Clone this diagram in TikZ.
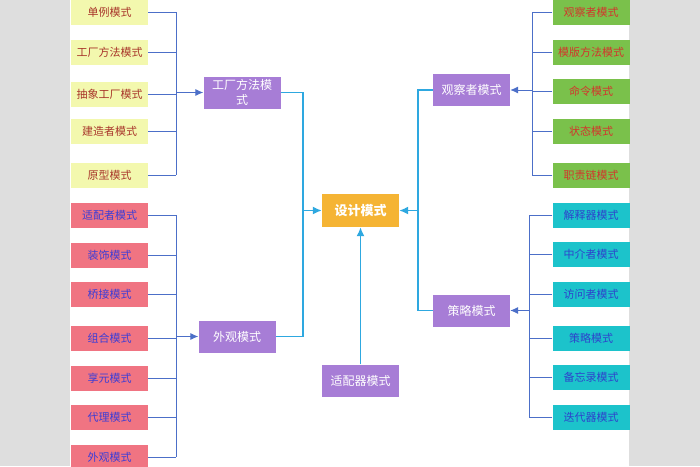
\documentclass[tikz,border=0pt]{standalone}
\usepackage{fontspec}
\setmainfont{Noto Sans CJK SC}
\usetikzlibrary{arrows.meta}
\definecolor{greybg}{HTML}{DEDEDE}
\definecolor{yel}{HTML}{F3F8AE}
\definecolor{yeltxt}{HTML}{A8352A}
\definecolor{pnk}{HTML}{F07482}
\definecolor{pnktxt}{HTML}{3B3DD6}
\definecolor{grn}{HTML}{7AC14B}
\definecolor{grntxt}{HTML}{D2352C}
\definecolor{tea}{HTML}{1CC3CB}
\definecolor{teatxt}{HTML}{2E42CC}
\definecolor{pur}{HTML}{A77DD6}
\definecolor{org}{HTML}{F5B434}
\definecolor{busblue}{HTML}{4C6FC8}
\definecolor{cblue}{HTML}{2EA8E0}
\tikzset{
  box/.style={minimum width=77pt, minimum height=25pt, inner sep=1pt, font=\fontsize{11}{13}\selectfont},
  ybox/.style={box, fill=yel, text=yeltxt},
  pbox/.style={box, fill=pnk, text=pnktxt},
  gbox/.style={box, fill=grn, text=grntxt},
  tbox/.style={box, fill=tea, text=teatxt},
  hub/.style={minimum width=77pt, minimum height=32pt, inner sep=1pt, fill=pur, text=white, align=center, font=\fontsize{12}{15}\selectfont},
  mainbox/.style={minimum width=77pt, minimum height=33pt, fill=org, text=white, font=\fontsize{13}{15}\selectfont\bfseries},
  bus/.style={draw=busblue, line width=0.9pt},
  busarrow/.style={draw=busblue, line width=0.9pt, -{Latex[length=8pt,width=7pt]}},
  cline/.style={draw=cblue, line width=1.6pt},
  carrow/.style={draw=cblue, line width=1.6pt, -{Latex[length=9pt,width=8pt]}}
}
\begin{document}
\begin{tikzpicture}[x=1pt,y=-1pt]
\useasboundingbox (0,0) rectangle (700,466);
\clip (0,0) rectangle (700,466);
\fill[greybg] (0,0) rectangle (700,466);
\fill[white] (70,0) rectangle (629,466);
% left yellow leaves
\node[ybox] (y1) at (109.5,12) {单例模式};
\node[ybox] (y2) at (109.5,52) {工厂方法模式};
\node[ybox] (y3) at (109.5,94) {抽象工厂模式};
\node[ybox] (y4) at (109.5,131) {建造者模式};
\node[ybox] (y5) at (109.5,175) {原型模式};
% left pink leaves
\node[pbox] (p1) at (109.5,215) {适配者模式};
\node[pbox] (p2) at (109.5,255) {装饰模式};
\node[pbox] (p3) at (109.5,294) {桥接模式};
\node[pbox] (p4) at (109.5,338) {组合模式};
\node[pbox] (p5) at (109.5,378) {享元模式};
\node[pbox] (p6) at (109.5,417) {代理模式};
\node[pbox] (p7) at (109.5,457) {外观模式};
% right green leaves
\node[gbox] (g1) at (591,12) {观察者模式};
\node[gbox] (g2) at (591,52) {模版方法模式};
\node[gbox] (g3) at (591,91) {命令模式};
\node[gbox] (g4) at (591,131) {状态模式};
\node[gbox] (g5) at (591,175) {职责链模式};
% right teal leaves
\node[tbox] (t1) at (591,215) {解释器模式};
\node[tbox] (t2) at (591,254) {中介者模式};
\node[tbox] (t3) at (591,294) {访问者模式};
\node[tbox] (t4) at (591,338) {策略模式};
\node[tbox] (t5) at (591,377) {备忘录模式};
\node[tbox] (t6) at (591,417) {迭代器模式};
% hubs
\node[hub] (h1) at (242,92.5) {工厂方法模\\式};
\node[hub] (h2) at (237,336.5) {外观模式};
\node[hub] (h3) at (471.5,90) {观察者模式};
\node[hub] (h4) at (471.5,310.5) {策略模式};
\node[hub] (h5) at (360.5,380.5) {适配器模式};
\node[mainbox] (m) at (360.5,210.5) {设计模式};
% bus coordinates
\coordinate (bL1) at (176,0);
\coordinate (bL2) at (176,0);
\coordinate (bR1) at (532,0);
\coordinate (bR2) at (529,0);
\coordinate (cL) at (303,0);
\coordinate (cR) at (418,0);
% left yellow bus
\foreach \n in {y1,y2,y3,y4,y5} { \draw[bus] (\n.east) -- (\n.east -| bL1); }
\draw[bus] (y1.east -| bL1) -- (y5.east -| bL1);
\draw[busarrow] (h1.west -| bL1) -- (h1.west);
% left pink bus
\foreach \n in {p1,p2,p3,p4,p5,p6,p7} { \draw[bus] (\n.east) -- (\n.east -| bL2); }
\draw[bus] (p1.east -| bL2) -- (p7.east -| bL2);
\draw[busarrow] (h2.west -| bL2) -- (h2.west);
% right green bus
\foreach \n in {g1,g2,g3,g4,g5} { \draw[bus] (\n.west) -- (\n.west -| bR1); }
\draw[bus] (g1.west -| bR1) -- (g5.west -| bR1);
\draw[busarrow] (h3.east -| bR1) -- (h3.east);
% right teal bus
\foreach \n in {t1,t2,t3,t4,t5,t6} { \draw[bus] (\n.west) -- (\n.west -| bR2); }
\draw[bus] (t1.west -| bR2) -- (t6.west -| bR2);
\draw[busarrow] (h4.east -| bR2) -- (h4.east);
% central connectors
\draw[cline] (h1.east) -- (h1.east -| cL) -- (h2.east -| cL) -- (h2.east);
\draw[carrow] (m.west -| cL) -- (m.west);
\draw[cline] (h3.west) -- (h3.west -| cR) -- (h4.west -| cR) -- (h4.west);
\draw[carrow] (m.east -| cR) -- (m.east);
\draw[carrow] (h5.north) -- (m.south);
\end{tikzpicture}
\end{document}
